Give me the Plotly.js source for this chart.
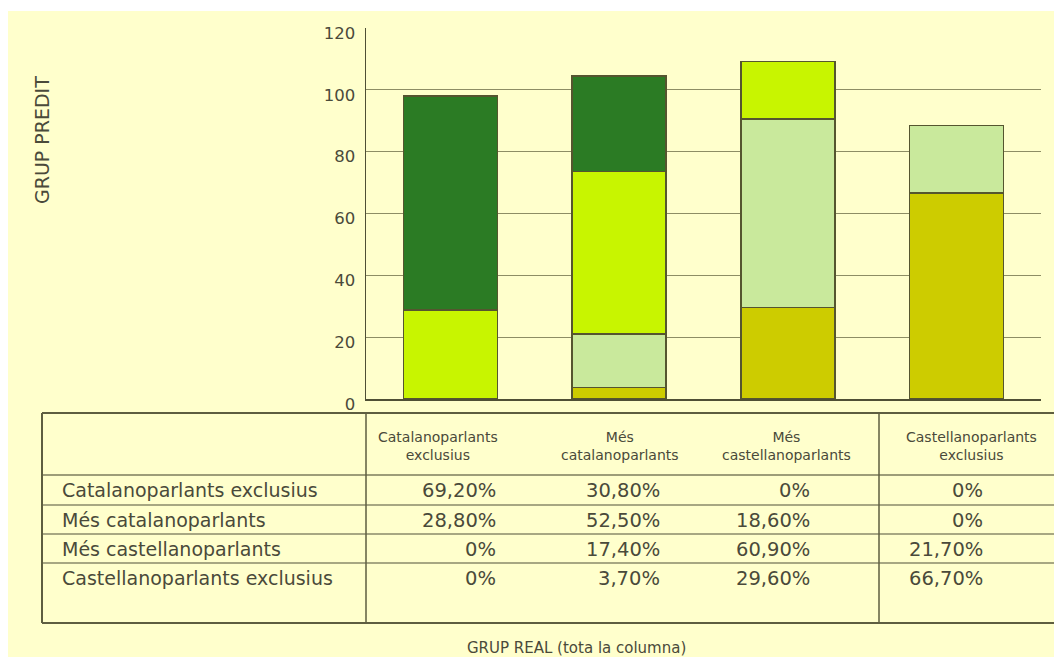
<!DOCTYPE html>
<html>
<head>
<meta charset="utf-8">
<script src="https://cdn.plot.ly/plotly-3.0.1.min.js"></script>
<style>
  html, body { margin: 0; padding: 0; background: #ffffff; width: 1054px; height: 657px; overflow: hidden; }
  #chart { position: absolute; left: 8px; top: 11px; width: 1046px; height: 646px; }
</style>
</head>
<body>
<div id="chart"></div>
<script>
// ---- Data ----
const categories = ['Catalanoparlants exclusius', 'Més catalanoparlants', 'Més castellanoparlants', 'Castellanoparlants exclusius'];
const headerLabels = ['Catalanoparlants<br>exclusius', 'Més<br>catalanoparlants', 'Més<br>castellanoparlants', 'Castellanoparlants<br>exclusius'];
const rowLabels = ['Catalanoparlants exclusius', 'Més catalanoparlants', 'Més castellanoparlants', 'Castellanoparlants exclusius'];
// predicted group (rows) across real group (columns)
const catalanoparlantsExclusius = [69.2, 30.8, 0, 0];
const mesCatalanoparlants = [28.8, 52.5, 18.6, 0];
const mesCastellanoparlants = [0, 17.4, 60.9, 21.7];
const castellanoparlantsExclusius = [0, 3.7, 29.6, 66.7];
const yTitle = 'GRUP PREDIT';
const xTitle = 'GRUP REAL (tota la columna)';

// ---- Layout constants (page pixel geometry) ----
const OX = 8, OY = 11;
const PL = 366, PR = 1041, PT = 28, PB = 399;
const px = X => (X - PL) / (PR - PL);
const py = Y => (PB - Y) / (PB - PT);

const textColor = '#4a4a3a';
const font = 'DejaVu Sans, Verdana, sans-serif';
const lineCol = '#5e5e40';

const rowsSeries = [catalanoparlantsExclusius, mesCatalanoparlants, mesCastellanoparlants, castellanoparlantsExclusius];
const colors = ['#2b7b24', '#c8f500', '#c9e99c', '#cdcc00'];

// bars: stacked, bottom = last row
const traces = [];
for (let i = rowsSeries.length - 1; i >= 0; i--) {
  traces.push({
    type: 'bar',
    x: categories,
    y: rowsSeries[i],
    name: rowLabels[i],
    marker: { color: colors[i], line: { color: '#55552f', width: 1.5 } },
    hoverinfo: 'skip'
  });
}

const fmt = v => v === 0 ? '0%' : v.toFixed(2).replace('.', ',') + '%';

const annotations = [];
// y title
annotations.push({
  xref: 'paper', yref: 'paper', x: px(42), y: py(140), text: yTitle, textangle: -90,
  showarrow: false, xanchor: 'center', yanchor: 'middle',
  font: { family: font, size: 19, color: textColor }
});
// x title
annotations.push({
  xref: 'paper', yref: 'paper', x: px(576), y: py(648), text: xTitle,
  showarrow: false, xanchor: 'center', yanchor: 'middle',
  font: { family: font, size: 15, color: textColor }
});
// header
const headerX = [438, 620, 786, 971];
headerLabels.forEach((t, j) => {
  annotations.push({
    xref: 'paper', yref: 'paper', x: px(headerX[j]), y: py(446), text: t,
    showarrow: false, xanchor: 'center', yanchor: 'middle', align: 'center',
    font: { family: font, size: 14, color: textColor }
  });
});
// rows
const rowY = [490, 520, 549, 578];
const valRight = [498, 662, 812, 985];
rowLabels.forEach((t, i) => {
  annotations.push({
    xref: 'paper', yref: 'paper', x: px(60), y: py(rowY[i]), text: t,
    showarrow: false, xanchor: 'left', yanchor: 'middle',
    font: { family: font, size: 19, color: textColor }
  });
  rowsSeries[i].forEach((v, j) => {
    annotations.push({
      xref: 'paper', yref: 'paper', x: px(valRight[j]), y: py(rowY[i]), text: fmt(v),
      showarrow: false, xanchor: 'right', yanchor: 'middle',
      font: { family: font, size: 19.5, color: textColor }
    });
  });
});

// table lines
const shapes = [];
const hline = (Y, w, c) => shapes.push({ type: 'line', xref: 'paper', yref: 'paper', x0: px(42), x1: px(1060), y0: py(Y), y1: py(Y), line: { color: c, width: w } });
const vline = (X, w, c) => shapes.push({ type: 'line', xref: 'paper', yref: 'paper', x0: px(X), x1: px(X), y0: py(413), y1: py(623), line: { color: c, width: w } });
hline(413, 2, lineCol);
hline(475, 1.5, '#7d7d5c');
hline(505, 1.5, '#8a8a6a');
hline(534, 1.5, '#8a8a6a');
hline(563, 1.5, '#8a8a6a');
hline(623, 2, lineCol);
vline(42, 2, lineCol);
vline(366, 1.5, lineCol);
vline(879, 1.5, lineCol);

const layout = {
  width: 1046, height: 646,
  margin: { l: PL - OX, r: 1046 - (PR - OX), t: PT - OY, b: 646 - (PB - OY) },
  paper_bgcolor: '#ffffcc',
  plot_bgcolor: '#ffffcc',
  barmode: 'stack',
  bargap: 0.443,
  showlegend: false,
  xaxis: {
    type: 'category', range: [-0.5, 3.5], showticklabels: false, ticks: '',
    showgrid: false, zeroline: false, showline: true, linecolor: '#4f4f35', linewidth: 2, fixedrange: true
  },
  yaxis: {
    range: [0, 120], dtick: 20, tick0: 0, showgrid: true, gridcolor: '#8d8d64', gridwidth: 1,
    zeroline: false, showline: true, linecolor: '#4f4f35', linewidth: 1.5, ticks: '',
    ticklabelstandoff: 6, ticklabelshift: 5,
    tickfont: { family: font, size: 16.5, color: textColor }, fixedrange: true
  },
  annotations: annotations,
  shapes: shapes
};

Plotly.newPlot('chart', traces, layout, { displayModeBar: false, staticPlot: true });
</script>
</body>
</html>
